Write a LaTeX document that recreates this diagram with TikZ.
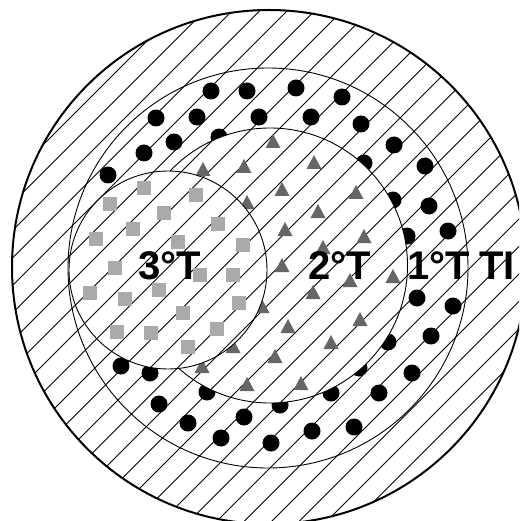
\documentclass[tikz,border=0pt]{standalone}
\usepackage{fontspec}
\setsansfont{Liberation Sans}
\definecolor{SquareGray}{HTML}{AAAAAA}
\definecolor{TriGray}{HTML}{666666}
\tikzset{
  rim/.style={draw=black, line width=2pt},
  ring/.style={draw=black, line width=0.9pt},
  hatch/.style={draw=black, line width=0.85pt},
  dot/.style={fill=black},
  tier/.style={font=\sffamily\bfseries\fontsize{40}{40}\selectfont, inner sep=0pt, anchor=base}
}
\newcommand{\hatchdisk}[2]{%
  \fill[white] (#1) circle (#2);
  \begin{scope}
    \clip (#1) circle (#2);
    \foreach \c in {-9,...,29}
      \draw[hatch] ({243+27.5*\c+300},-300) -- ({243+27.5*\c-830},830);
  \end{scope}
}

\begin{document}
\begin{tikzpicture}[x=1pt,y=-1pt]
  \clip (0,0) rectangle (519,521);
  \fill[white] (0,0) rectangle (519,521);
  % TI
  \hatchdisk{269,267}{257pt}
  \draw[rim] (269,267) circle (257pt);
  % 1 T
  \draw[ring] (268,268) circle (200pt);
  \foreach \x/\y in {211/91,247/91,259/117,197/117,156/118,174/142,144/153,108/175,219/137,
      296/88,342/97,311/117,361/124,394/145,425/166,364/163,429/206,393/200,448/231,407/236,
      417/298,453/306,431/336,388/342,412/373,359/368,379/393,331/393,280/405,354/427,312/431,271/443,
      121/366,150/373,159/404,188/423,221/438,244/417,207/392}
    \fill[dot] (\x,\y) circle (8.5pt);
  % 2 T
  \hatchdisk{270,265.5}{137.5pt}
  \draw[ring] (270,265.5) circle (137.5pt);
  \foreach \x/\y in {203/170,244/167,247/203,273/142,314/163,282/190,356/193,318/212,285/230,364/237,
      323/248,282/266,350/281,393/277,313/293,262/307,288/327,360/320,331/343,275/357,301/384,
      233/347,202/367,247/385}
    \fill[TriGray] (\x-7.5,\y+6) -- (\x+7.5,\y+6) -- (\x,\y-8) -- cycle;
  % 3 T
  \hatchdisk{168,270}{99pt}
  \draw[ring] (168,270) circle (99pt);
  \foreach \x/\y in {144/188,110/204,196/195,164/213,133/229,218/224,96/239,178/242,243/245,
      115/268,200/275,233/275,90/293,125/299,159/290,239/303,183/313,117/332,151/333,217/329,188/347}
    \fill[SquareGray] (\x-7,\y-7) rectangle (\x+7,\y+7);
  % labels
  \node[tier] (third) at (170,279) {3°T};
  \node[tier] (second) at (340,279) {2°T};
  \node[tier] (first) at (438.5,279) {1°T};
  \node[tier, anchor=base west] (outer) at (479,279) {TI};
\end{tikzpicture}
\end{document}
